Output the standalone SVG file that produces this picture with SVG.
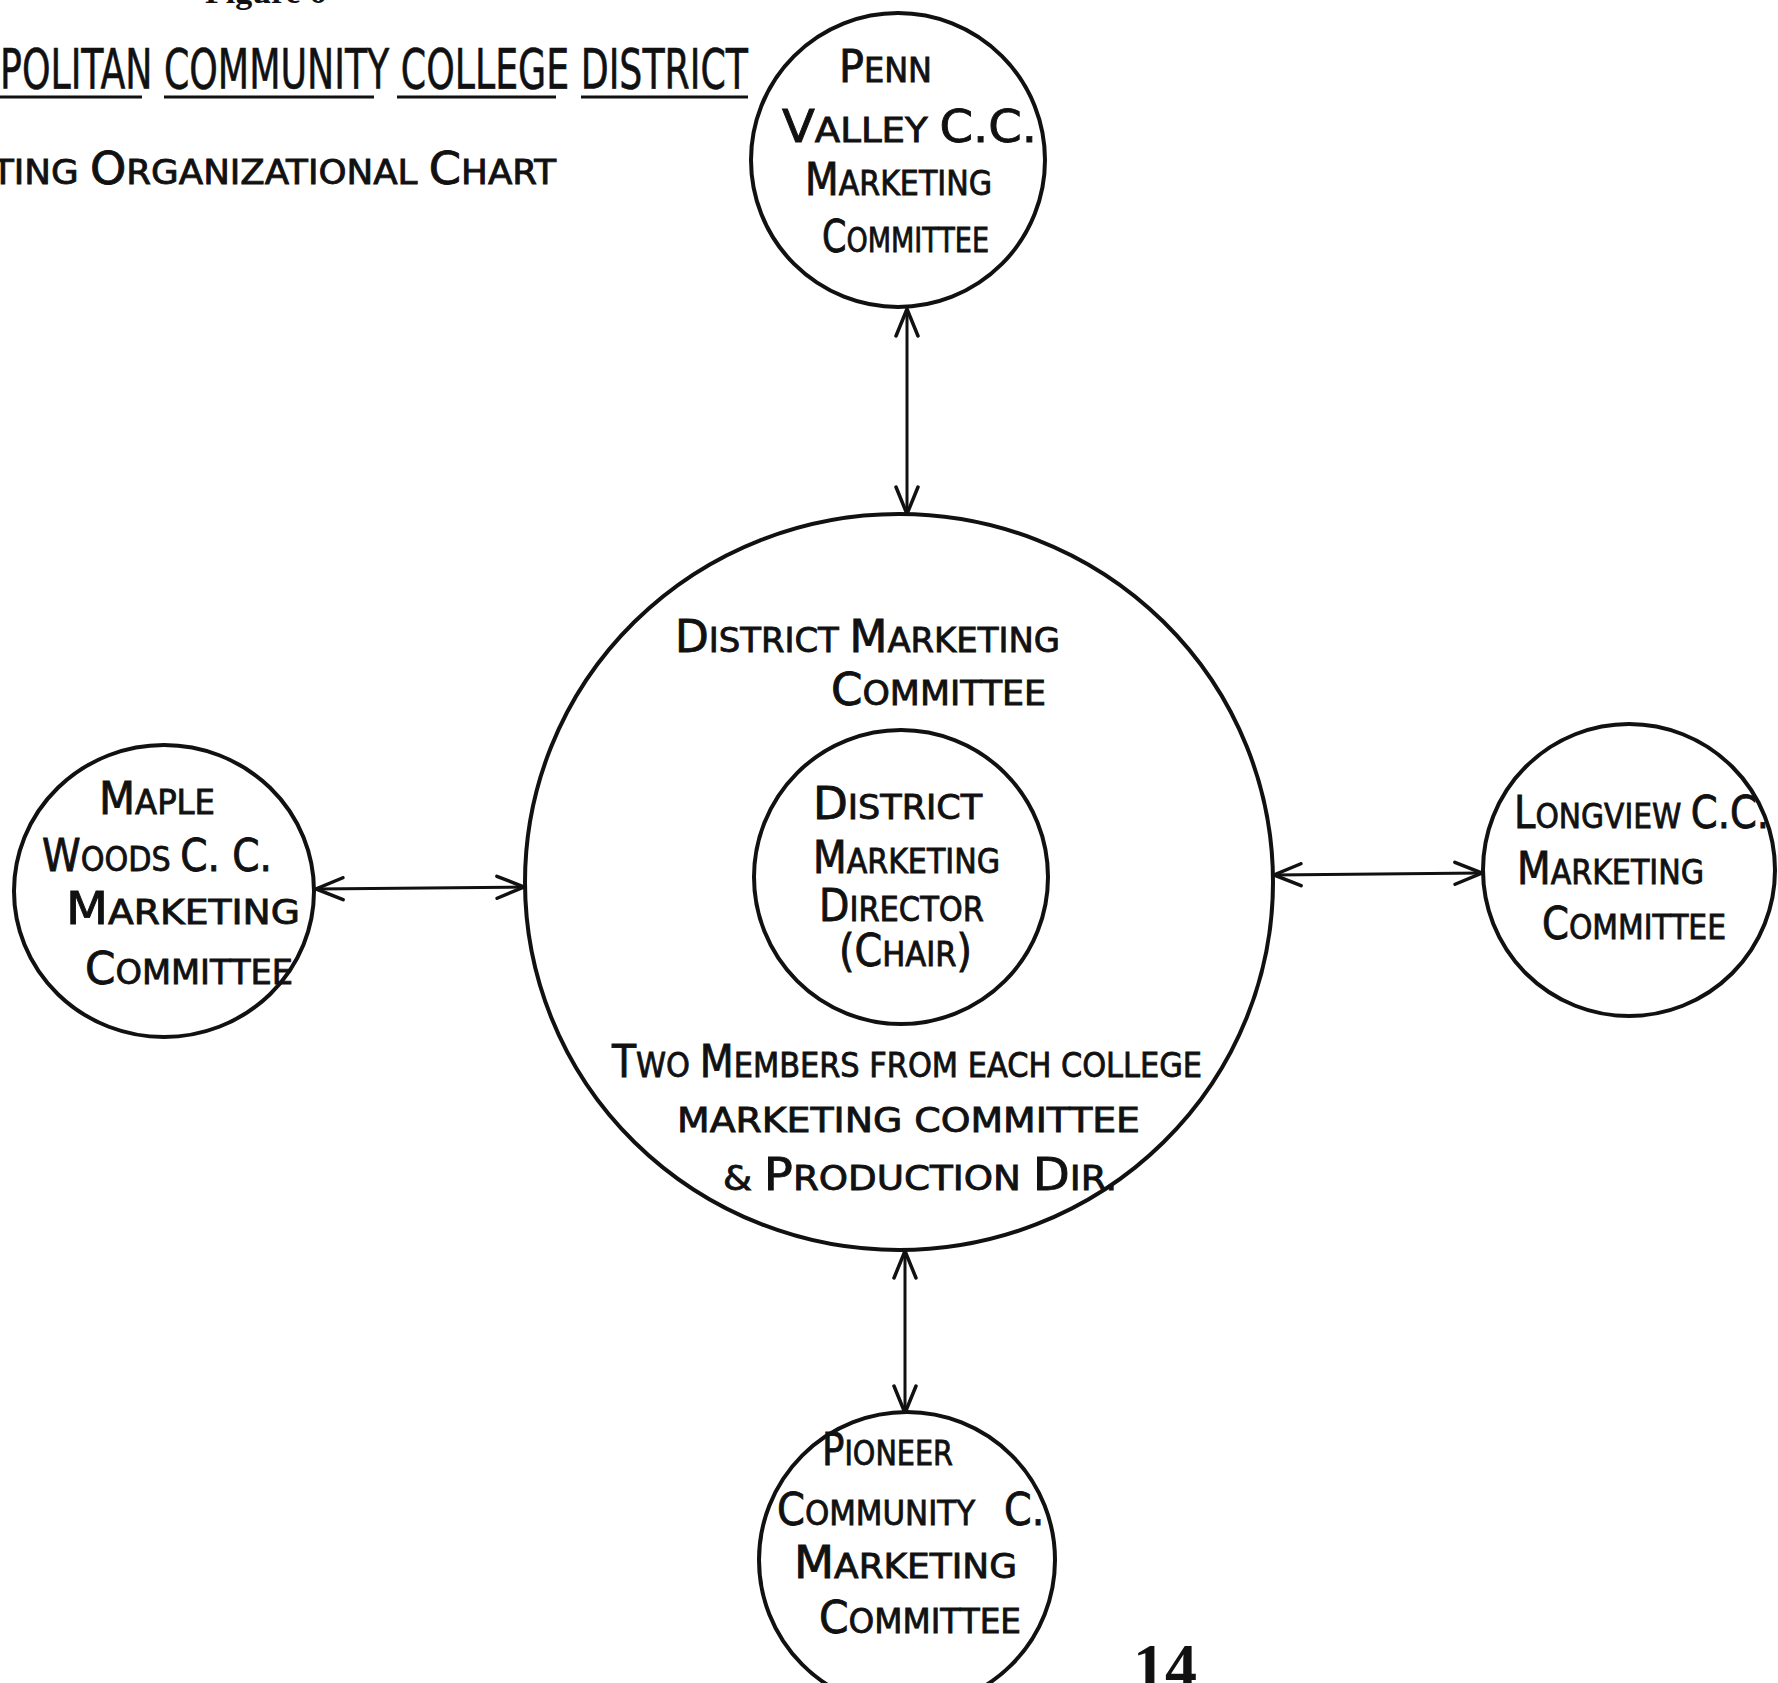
<svg xmlns="http://www.w3.org/2000/svg" width="1778" height="1683" viewBox="0 0 1778 1683">
<defs>
<style>
.node{fill:none;stroke:#111;stroke-width:4}
.conn{fill:none;stroke:#111;stroke-width:3}
.ul{stroke:#111;stroke-width:3}
.t{font-family:"DejaVu Sans Condensed","Liberation Sans Narrow","Liberation Sans",sans-serif;fill:#111;stroke:#111;stroke-width:0.8;font-size:34px}
.b{font-size:44px}
.title{font-family:"DejaVu Sans Condensed","Liberation Sans Narrow","Liberation Sans",sans-serif;fill:#111;stroke:#111;stroke-width:0.6;font-size:56px}
.serif{font-family:"Liberation Serif",serif;font-weight:bold;fill:#111}
</style>
<marker id="arr" viewBox="0 0 30 26" refX="29" refY="13" markerWidth="30" markerHeight="26" markerUnits="userSpaceOnUse" orient="auto-start-reverse">
<path d="M2,2 L29,13 L2,24" fill="none" stroke="#111" stroke-width="3.5" stroke-linecap="round"/>
</marker>
</defs>
<rect width="1778" height="1683" fill="#fff"/>

<g id="header">
<text class="serif" x="205" y="3" font-size="34">Figure 6</text>
<text class="title" x="0" y="88" textLength="748" lengthAdjust="spacingAndGlyphs">POLITAN COMMUNITY COLLEGE DISTRICT</text>
<line class="ul" x1="0" y1="97" x2="142" y2="97"/>
<line class="ul" x1="164" y1="97" x2="374" y2="97"/>
<line class="ul" x1="397" y1="97" x2="556" y2="97"/>
<line class="ul" x1="581" y1="97" x2="748" y2="97"/>
<text class="t" x="-8" y="184" textLength="564" lengthAdjust="spacingAndGlyphs">TING <tspan class="b">O</tspan>RGANIZATIONAL <tspan class="b">C</tspan>HART</text>
</g>

<g id="connectors">
<line class="conn" x1="907" y1="309" x2="907" y2="514" marker-start="url(#arr)" marker-end="url(#arr)"/>
<line class="conn" x1="905" y1="1251" x2="905" y2="1413" marker-start="url(#arr)" marker-end="url(#arr)"/>
<line class="conn" x1="316" y1="889" x2="524" y2="887" marker-start="url(#arr)" marker-end="url(#arr)"/>
<line class="conn" x1="1274" y1="875" x2="1482" y2="873" marker-start="url(#arr)" marker-end="url(#arr)"/>
</g>

<g id="penn-valley">
<circle class="node" cx="898" cy="160" r="147"/>
<text class="t" x="839" y="82" textLength="93" lengthAdjust="spacingAndGlyphs"><tspan class="b">P</tspan>ENN</text>
<text class="t" x="782" y="142" textLength="255" lengthAdjust="spacingAndGlyphs"><tspan class="b">V</tspan>ALLEY <tspan class="b">C.C.</tspan></text>
<text class="t" x="805" y="195" textLength="187" lengthAdjust="spacingAndGlyphs"><tspan class="b">M</tspan>ARKETING</text>
<text class="t" x="822" y="252" textLength="167" lengthAdjust="spacingAndGlyphs"><tspan class="b">C</tspan>OMMITTEE</text>
</g>

<g id="district-committee">
<ellipse class="node" cx="899" cy="882" rx="374" ry="368"/>
<text class="t" x="675" y="652" textLength="385" lengthAdjust="spacingAndGlyphs"><tspan class="b">D</tspan>ISTRICT <tspan class="b">M</tspan>ARKETING</text>
<text class="t" x="831" y="705" textLength="215" lengthAdjust="spacingAndGlyphs"><tspan class="b">C</tspan>OMMITTEE</text>
<text class="t" x="612" y="1077" textLength="590" lengthAdjust="spacingAndGlyphs"><tspan class="b">T</tspan>WO <tspan class="b">M</tspan>EMBERS FROM EACH COLLEGE</text>
<text class="t" x="677" y="1132" textLength="463" lengthAdjust="spacingAndGlyphs">MARKETING COMMITTEE</text>
<text class="t" x="723" y="1190" textLength="394" lengthAdjust="spacingAndGlyphs">&amp; <tspan class="b">P</tspan>RODUCTION <tspan class="b">D</tspan>IR.</text>
</g>

<g id="district-director">
<circle class="node" cx="901" cy="877" r="147"/>
<text class="t" x="813" y="819" textLength="169" lengthAdjust="spacingAndGlyphs"><tspan class="b">D</tspan>ISTRICT</text>
<text class="t" x="813" y="873" textLength="187" lengthAdjust="spacingAndGlyphs"><tspan class="b">M</tspan>ARKETING</text>
<text class="t" x="819" y="921" textLength="165" lengthAdjust="spacingAndGlyphs"><tspan class="b">D</tspan>IRECTOR</text>
<text class="t" x="839" y="966" textLength="133" lengthAdjust="spacingAndGlyphs"><tspan class="b">(C</tspan>HAIR<tspan class="b">)</tspan></text>
</g>

<g id="maple-woods">
<ellipse class="node" cx="164" cy="891" rx="150" ry="146"/>
<text class="t" x="99" y="814" textLength="116" lengthAdjust="spacingAndGlyphs"><tspan class="b">M</tspan>APLE</text>
<text class="t" x="42" y="871" textLength="230" lengthAdjust="spacingAndGlyphs"><tspan class="b">W</tspan>OODS <tspan class="b">C. C.</tspan></text>
<text class="t" x="66" y="924" textLength="234" lengthAdjust="spacingAndGlyphs"><tspan class="b">M</tspan>ARKETING</text>
<text class="t" x="85" y="984" textLength="208" lengthAdjust="spacingAndGlyphs"><tspan class="b">C</tspan>OMMITTEE</text>
</g>

<g id="longview">
<circle class="node" cx="1629" cy="870" r="146"/>
<text class="t" x="1514" y="828" textLength="255" lengthAdjust="spacingAndGlyphs"><tspan class="b">L</tspan>ONGVIEW <tspan class="b">C.C.</tspan></text>
<text class="t" x="1517" y="884" textLength="187" lengthAdjust="spacingAndGlyphs"><tspan class="b">M</tspan>ARKETING</text>
<text class="t" x="1542" y="939" textLength="184" lengthAdjust="spacingAndGlyphs"><tspan class="b">C</tspan>OMMITTEE</text>
</g>

<g id="pioneer">
<circle class="node" cx="907" cy="1560" r="148"/>
<text class="t" x="822" y="1465" textLength="131" lengthAdjust="spacingAndGlyphs"><tspan class="b">P</tspan>IONEER</text>
<text class="t" x="777" y="1525" textLength="198" lengthAdjust="spacingAndGlyphs"><tspan class="b">C</tspan>OMMUNITY</text>
<text class="t b" x="1004" y="1525">C.</text>
<text class="t" x="794" y="1578" textLength="223" lengthAdjust="spacingAndGlyphs"><tspan class="b">M</tspan>ARKETING</text>
<text class="t" x="819" y="1633" textLength="202" lengthAdjust="spacingAndGlyphs"><tspan class="b">C</tspan>OMMITTEE</text>
</g>

<g id="page-number">
<text class="serif" x="1133" y="1688" font-size="64">14</text>
</g>
</svg>
